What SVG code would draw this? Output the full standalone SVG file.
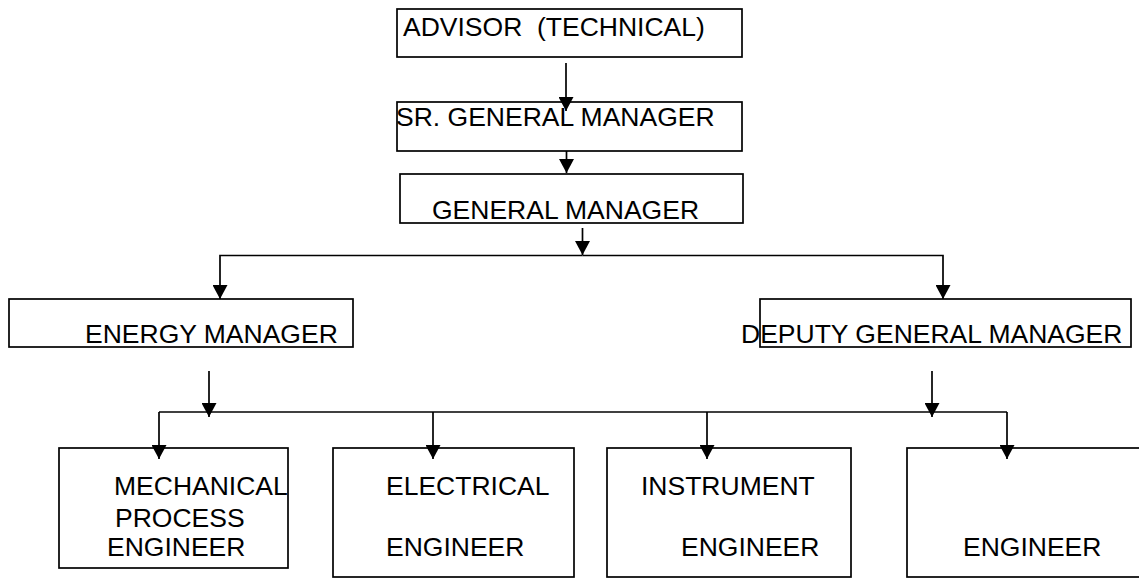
<svg xmlns="http://www.w3.org/2000/svg" width="1139" height="578" viewBox="0 0 1139 578">
  <style>
    .box { fill: #ffffff; stroke: #000000; stroke-width: 1.7; }
    .lbl { font-family: "Liberation Sans", Arial, sans-serif; font-size: 26.5px; fill: #000000; }
    .con { fill: none; stroke: #000000; stroke-width: 1.7; }
  </style>
  <defs>
    <marker id="ah" viewBox="0 0 14 15" refX="14" refY="7.5" markerWidth="14" markerHeight="15" markerUnits="userSpaceOnUse" orient="auto">
      <path d="M0,0 L14,7.5 L0,15 Z" fill="#000000"/>
    </marker>
  </defs>
  <rect width="1139" height="578" fill="#ffffff"/>

  <g id="advisor">
    <rect class="box" x="397" y="9" width="345" height="48"/>
    <text class="lbl" x="403" y="36" xml:space="preserve">ADVISOR  (TECHNICAL)</text>
  </g>
  <g id="sr-general-manager">
    <rect class="box" x="397" y="102" width="345" height="49"/>
  </g>
  <g id="general-manager">
    <rect class="box" x="400" y="174" width="343" height="49"/>
    <text class="lbl" x="432" y="219">GENERAL MANAGER</text>
  </g>
  <g id="energy-manager">
    <rect class="box" x="9" y="299" width="344" height="48"/>
    <text class="lbl" x="85" y="343">ENERGY MANAGER</text>
  </g>
  <g id="deputy-general-manager">
    <rect class="box" x="760" y="299" width="371" height="48"/>
    <text class="lbl" x="741" y="343">DEPUTY GENERAL MANAGER</text>
  </g>
  <g id="mechanical-engineer">
    <rect class="box" x="59" y="448" width="229" height="120"/>
    <text class="lbl" x="114" y="495">MECHANICAL</text>
    <text class="lbl" x="115" y="527">PROCESS</text>
    <text class="lbl" x="107" y="556">ENGINEER</text>
  </g>
  <g id="electrical-engineer">
    <rect class="box" x="333" y="448" width="241" height="129"/>
    <text class="lbl" x="386" y="495">ELECTRICAL</text>
    <text class="lbl" x="386" y="556">ENGINEER</text>
  </g>
  <g id="instrument-engineer">
    <rect class="box" x="607" y="448" width="244" height="129"/>
    <text class="lbl" x="641" y="495">INSTRUMENT</text>
    <text class="lbl" x="681" y="556">ENGINEER</text>
  </g>
  <g id="engineer">
    <rect class="box" x="907" y="448" width="240" height="129"/>
    <text class="lbl" x="963" y="556">ENGINEER</text>
  </g>

  <g id="connectors">
    <path class="con" d="M566,63 V111" marker-end="url(#ah)"/>
    <path class="con" d="M566.5,151 V173" marker-end="url(#ah)"/>
    <path class="con" d="M582.5,228 V255" marker-end="url(#ah)"/>
    <path class="con" d="M582.5,255.5 H220 V299" marker-end="url(#ah)"/>
    <path class="con" d="M582.5,255.5 H943 V299" marker-end="url(#ah)"/>
    <path class="con" d="M209,371 V417" marker-end="url(#ah)"/>
    <path class="con" d="M932,371 V417" marker-end="url(#ah)"/>
    <path class="con" d="M159,412 H1007"/>
    <path class="con" d="M159,412 V459" marker-end="url(#ah)"/>
    <path class="con" d="M433,412 V459" marker-end="url(#ah)"/>
    <path class="con" d="M707,412 V459" marker-end="url(#ah)"/>
    <path class="con" d="M1007,412 V459" marker-end="url(#ah)"/>
  </g>

  <text class="lbl" x="396" y="126">SR. GENERAL MANAGER</text>
</svg>
